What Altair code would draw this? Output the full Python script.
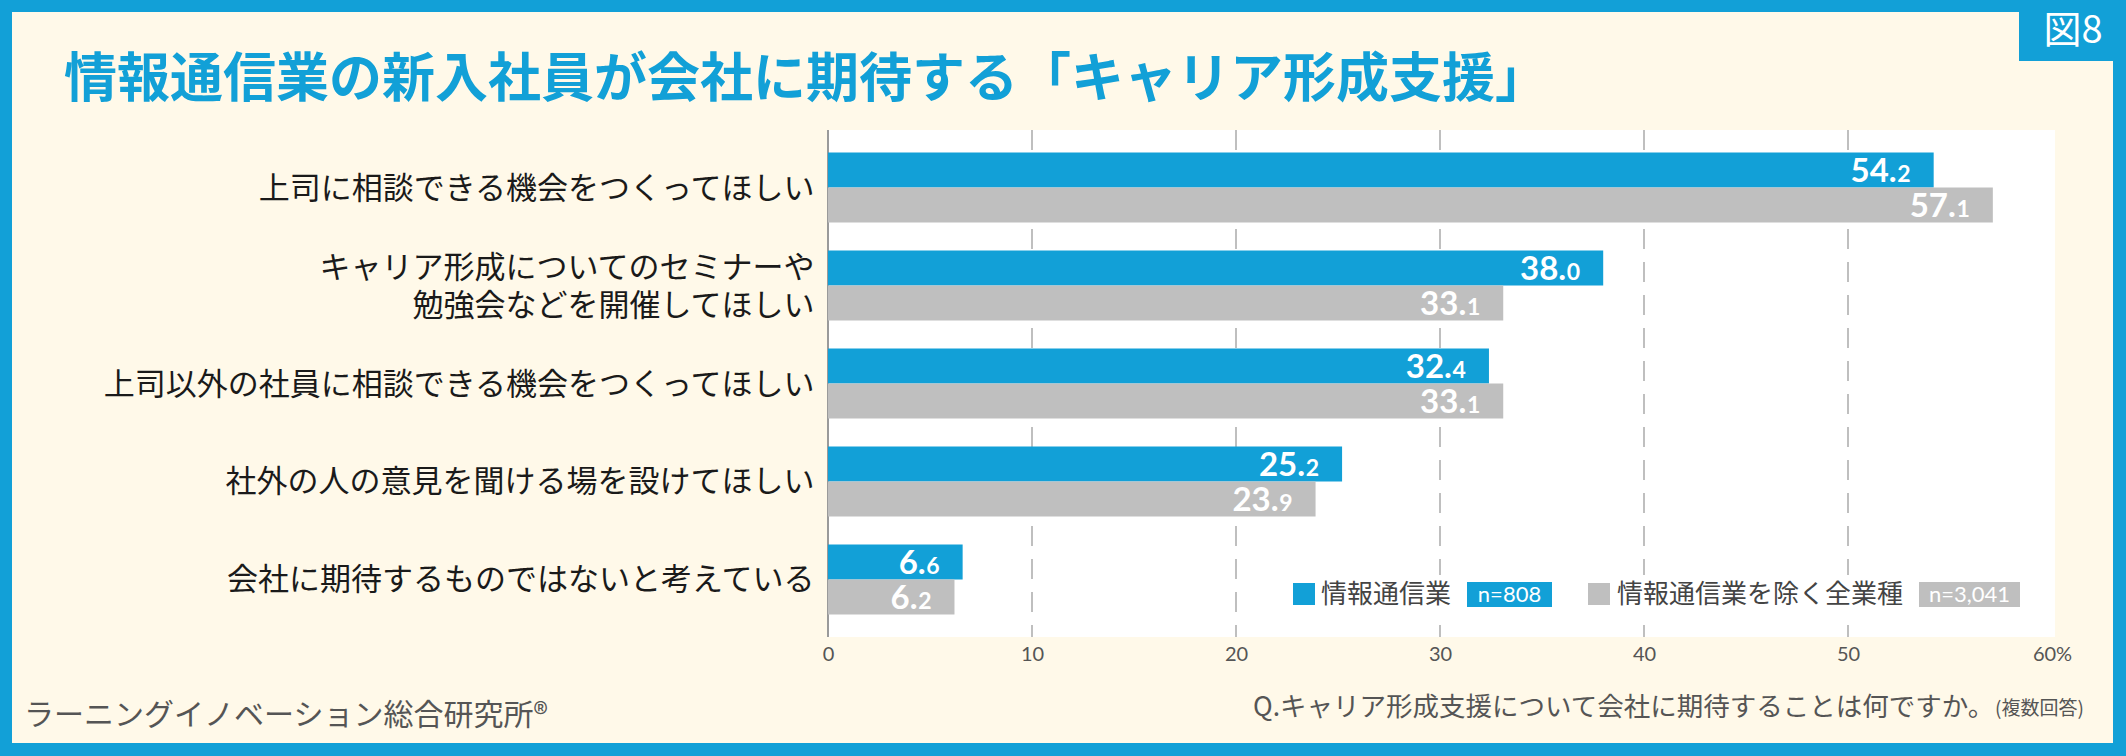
import altair as alt
import pandas as pd

# ---- data -------------------------------------------------------------
categories = [
    "上司に相談できる機会をつくってほしい",
    "キャリア形成についてのセミナーや\n勉強会などを開催してほしい",
    "上司以外の社員に相談できる機会をつくってほしい",
    "社外の人の意見を聞ける場を設けてほしい",
    "会社に期待するものではないと考えている",
]
series = ["情報通信業", "情報通信業を除く全業種"]
sample_sizes = ["n=808", "n=3,041"]
ict_values = [54.2, 38.0, 32.4, 25.2, 6.6]
other_values = [57.1, 33.1, 33.1, 23.9, 6.2]
x_ticks = [0, 10, 20, 30, 40, 50, 60]

title_text = "情報通信業の新入社員が会社に期待する「キャリア形成支援」"
figure_label = "図8"
source_text = "ラーニングイノベーション総合研究所®"
question_text = "Q.キャリア形成支援について会社に期待することは何ですか。"
question_note = "(複数回答)"

# ---- styling / layout ---------------------------------------------------
BLUE = "#12A0D7"
GRAY = "#BFBFBF"
CREAM = "#FFF9E9"
JP = "Noto Sans CJK JP"
NUM = "Lato"

TOTAL_W, TOTAL_H = 2126, 756
LEFT, TOP = 828, 130          # plot origin on the page
PLOT_W, PLOT_H = 1227, 507
SCALE_W = 1224                # pixels spanned by 0..60
LINE_H = 38


def rx(a):
    return a - LEFT


def ry(a):
    return a - TOP


rows = []
for cat, a, b in zip(categories, ict_values, other_values):
    rows.append({"item": cat, "series": series[0], "value": a})
    rows.append({"item": cat, "series": series[1], "value": b})
df = pd.DataFrame(rows)

xscale = alt.Scale(domain=[x_ticks[0], x_ticks[-1]], range=[0, SCALE_W], nice=False, zero=True)
yscale = alt.Scale(paddingInner=0.285, paddingOuter=0.23)
offscale = alt.Scale(paddingInner=0, paddingOuter=0)
colscale = alt.Scale(domain=series, range=[BLUE, GRAY])

x_axis = alt.Axis(
    values=x_ticks,
    labelExpr=f"datum.value == {x_ticks[-1]} ? datum.label + '%' : datum.label",
    grid=False, domain=False, ticks=False, labelFlush=False,
    labelFont=NUM, labelFontSize=20, labelColor="#555555", labelPadding=7,
)
# two-line labels are lifted by half a line so the block stays centred
y_axis = alt.Axis(
    domain=False, ticks=False, grid=False,
    labelFont=JP, labelFontSize=31, labelColor="#1a1a1a",
    labelPadding=14, labelLimit=900, labelLineHeight=LINE_H,
    labelOffset={
        "condition": {"test": "indexof(datum.label, '\\n') >= 0", "value": 2 - LINE_H / 2},
        "value": 2,
    },
    labelExpr="split(datum.label, '\\n')",
)

one = pd.DataFrame({"k": [0]})

# ---- frame ------------------------------------------------------------
def frame_rect(x0, y0, x1, y1, color=BLUE):
    return alt.Chart(one).mark_rect(color=color).encode(
        x=alt.value(rx(x0)), x2=alt.value(rx(x1)),
        y=alt.value(ry(y0)), y2=alt.value(ry(y1)),
    )


frame = [
    frame_rect(0, 0, TOTAL_W, 12),
    frame_rect(0, 0, 12, TOTAL_H),
    frame_rect(2113, 0, TOTAL_W, TOTAL_H),
    frame_rect(0, 743, TOTAL_W, TOTAL_H),
    frame_rect(2019, 0, TOTAL_W, 61),
]


def text_layer(txt, x, y, size, color, font=JP, weight="normal", align="left"):
    return alt.Chart(pd.DataFrame({"t": [txt]})).mark_text(
        align=align, baseline="middle", font=font, fontSize=size,
        fontWeight=weight, color=color,
    ).encode(x=alt.value(rx(x)), y=alt.value(ry(y)), text="t:N")


texts = [
    text_layer(title_text, 64, 81, 53, BLUE, weight="bold"),
    text_layer(figure_label, 2073, 32, 38, "white", align="center"),
    text_layer(source_text, 24, 716, 30, "#555555"),
    text_layer(question_text, 1253, 708, 26.5, "#555555"),
    text_layer(question_note, 1995, 709, 19, "#555555"),
]

# ---- grid ---------------------------------------------------------------
grid = alt.Chart(pd.DataFrame({"tick": x_ticks[1:-1]})).mark_rule(
    color="#AAAAAA", strokeWidth=1.5, strokeDash=[20, 13]
).encode(x=alt.X("tick:Q", scale=xscale, title=None))

zero_line = alt.Chart(pd.DataFrame({"tick": x_ticks[:1]})).mark_rule(
    color="#9A9A9A", strokeWidth=2
).encode(x=alt.X("tick:Q", scale=xscale, title=None))

# ---- bars and value labels ---------------------------------------------
base = alt.Chart(df)

bars = base.mark_bar().encode(
    x=alt.X("value:Q", scale=xscale, axis=x_axis, title=None),
    y=alt.Y("item:N", sort=categories, scale=yscale, axis=y_axis, title=None),
    yOffset=alt.YOffset("series:N", sort=series, scale=offscale),
    color=alt.Color("series:N", scale=colscale, legend=None),
)

labelled = base.transform_calculate(
    whole="split(format(datum.value, '.1f'), '.')[0] + '.'",
    tenth="split(format(datum.value, '.1f'), '.')[1]",
)

tenth_text = labelled.mark_text(
    align="right", baseline="alphabetic", font=NUM, fontWeight="bold",
    fontSize=23, color="white", dx=-23, dy=12,
).encode(
    x=alt.X("value:Q", title=None),
    y=alt.Y("item:N", sort=categories, title=None),
    yOffset=alt.YOffset("series:N", sort=series),
    text="tenth:N",
)

whole_text = labelled.mark_text(
    align="right", baseline="alphabetic", font=NUM, fontWeight="bold",
    fontSize=33, color="white", dx=-37, dy=12,
).encode(
    x=alt.X("value:Q", title=None),
    y=alt.Y("item:N", sort=categories, title=None),
    yOffset=alt.YOffset("series:N", sort=series),
    text="whole:N",
)

# ---- legend -----------------------------------------------------------
legend_layers = [frame_rect(1285, 575, 2028, 615, color="white")]
swatch_x = [1293, 1588]
label_x = [1321, 1617]
box_x = [(1467, 1552), (1919, 2020)]
box_colors = [BLUE, GRAY]
for i, (name, n) in enumerate(zip(series, sample_sizes)):
    legend_layers.append(frame_rect(swatch_x[i], 583, swatch_x[i] + 22, 605, color=box_colors[i]))
    legend_layers.append(
        alt.Chart(pd.DataFrame({"s": [name]})).mark_text(
            align="left", baseline="middle", font=JP, fontSize=26, color="#444444"
        ).encode(x=alt.value(rx(label_x[i])), y=alt.value(ry(595)), text="s:N")
    )
    legend_layers.append(frame_rect(box_x[i][0], 582, box_x[i][1], 607, color=box_colors[i]))
    legend_layers.append(
        alt.Chart(pd.DataFrame({"s": [n]})).mark_text(
            align="center", baseline="middle", font=NUM, fontSize=22, color="white"
        ).encode(x=alt.value(rx((box_x[i][0] + box_x[i][1]) / 2)), y=alt.value(ry(595)), text="s:N")
    )

chart = alt.layer(
    grid, zero_line, bars, tenth_text, whole_text, *legend_layers, *frame, *texts
).properties(
    width=PLOT_W,
    height=PLOT_H,
    padding={"left": LEFT, "top": TOP, "right": TOTAL_W - LEFT - PLOT_W, "bottom": TOTAL_H - TOP - PLOT_H},
    autosize=alt.AutoSizeParams(type="none"),
    background=CREAM,
).configure_view(
    stroke=None, fill="white"
)

chart.save("out.html", embed_options={"renderer": "svg", "actions": False})
